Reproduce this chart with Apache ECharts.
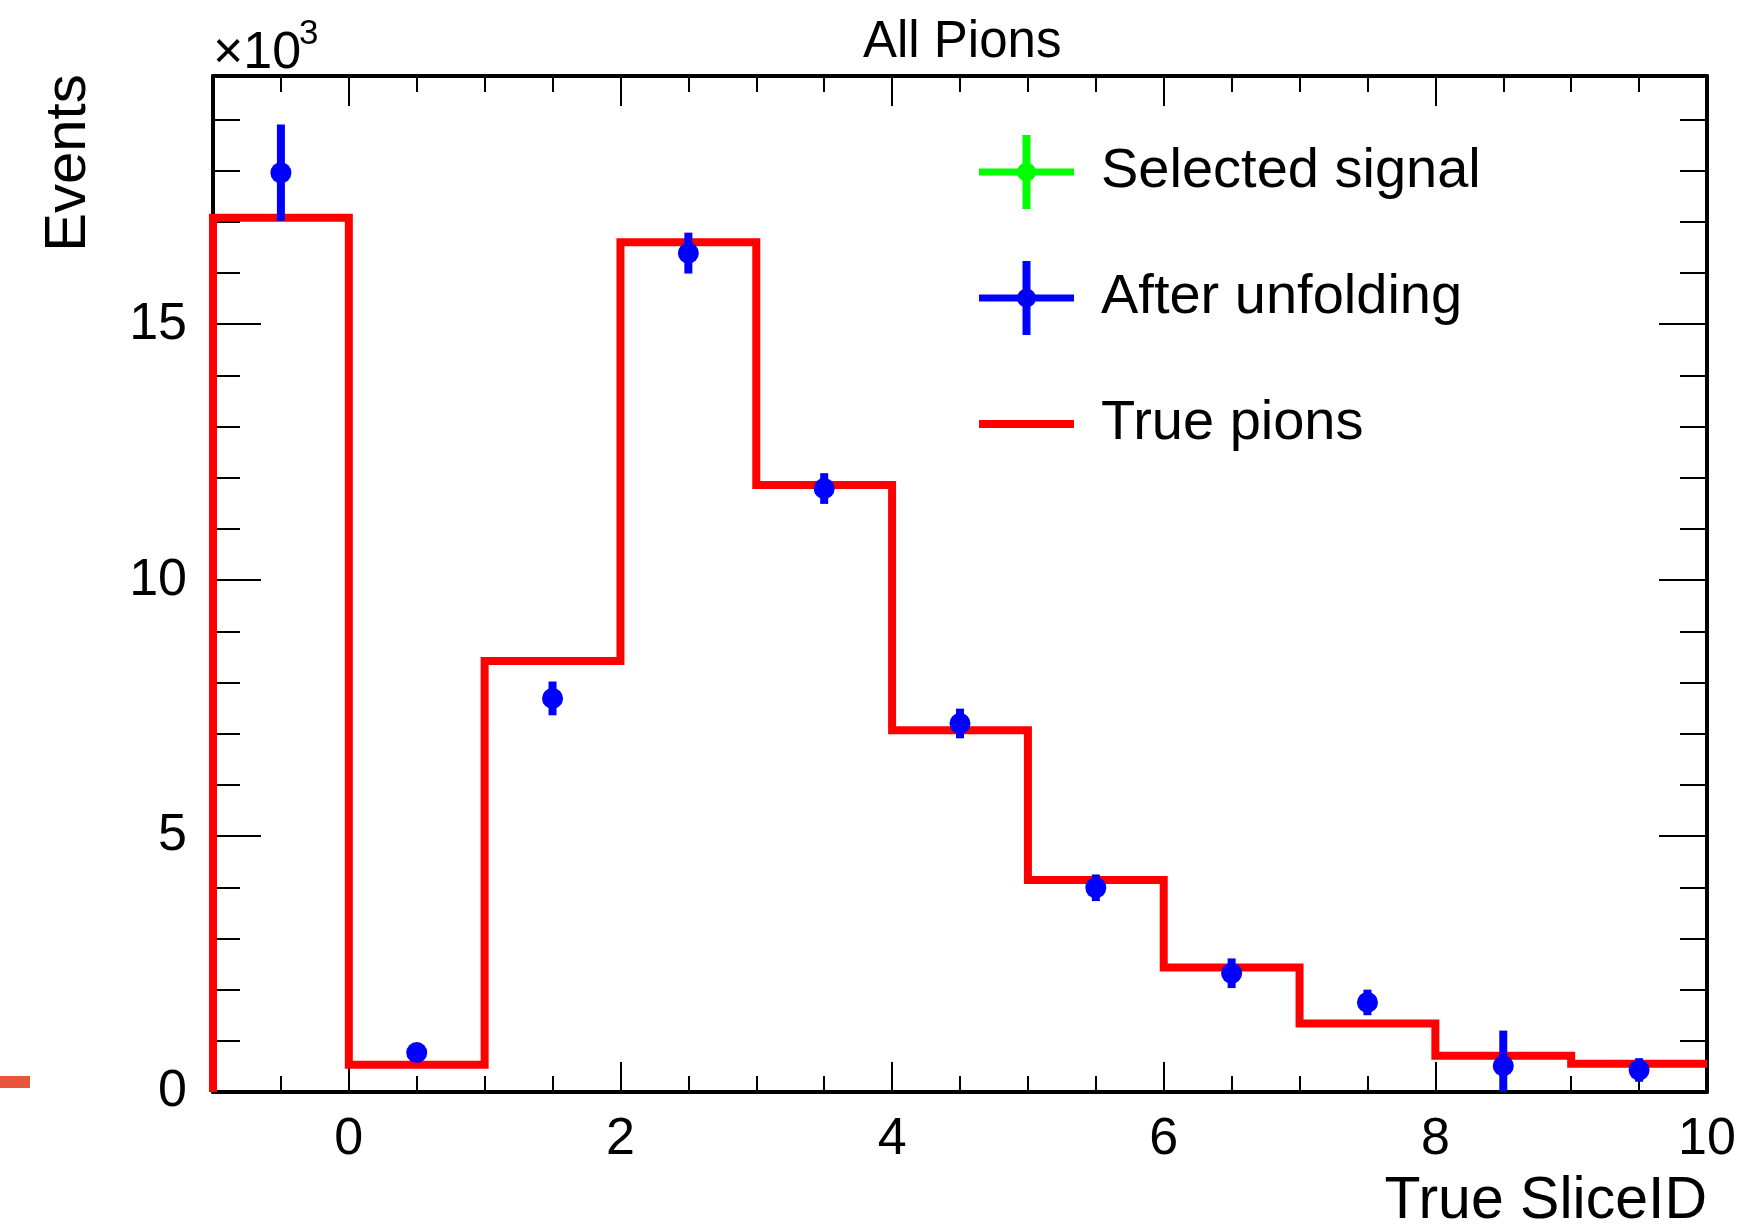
<!DOCTYPE html>
<html><head><meta charset="utf-8"><title>All Pions</title>
<script src="https://cdn.jsdelivr.net/npm/echarts@6/dist/echarts.min.js"></script>
<style>html,body{margin:0;padding:0;background:#fff}#chart{width:1753px;height:1225px}</style>
</head><body><div id="chart"></div>
<script>
// ---- data ----
const binEdges = [-1, 0, 1, 2, 3, 4, 5, 6, 7, 8, 9, 10];
const binCenters = [-0.5, 0.5, 1.5, 2.5, 3.5, 4.5, 5.5, 6.5, 7.5, 8.5, 9.5];
const truePions = [17080, 530, 8420, 16600, 11860, 7070, 4140, 2430, 1340, 710, 550];
const afterUnfolding = [17960, 770, 7690, 16390, 11790, 7200, 3990, 2320, 1750, 510, 430];
const afterUnfoldingErr = [940, 120, 330, 400, 300, 290, 260, 290, 250, 690, 230];
const selectedSignal = [];      // no visible points in the reference
const selectedSignalErr = [];
const xTickLabels = [0, 2, 4, 6, 8, 10];
const yTickLabels = [0, 5000, 10000, 15000];

const FONT = "'Liberation Sans', Arial, Helvetica, sans-serif";
const X_MIN = -1, X_MAX = 10, Y_MIN = 0, Y_MAX = 19850;
const GRID = { left: 213, top: 76, width: 1494, height: 1016 };

const stepData = [[binEdges[0], 0]];
for (let i = 0; i < truePions.length; i++) stepData.push([binEdges[i], truePions[i]]);
stepData.push([binEdges[binEdges.length - 1], truePions[truePions.length - 1]]);

const unfoldData = binCenters.map((x, i) => [x, afterUnfolding[i], afterUnfoldingErr[i]]);
const signalData = selectedSignal.map((v, i) => [binCenters[i], v, selectedSignalErr[i]]);

function errRender(color) {
  return function (params, api) {
    const x = api.value(0), y = api.value(1), e = api.value(2);
    const c = api.coord([x, y]);
    const t = api.coord([x, y + e]);
    const b = api.coord([x, Math.max(y - e, Y_MIN)]);
    return {
      type: 'group',
      children: [
        { type: 'line', shape: { x1: c[0], y1: t[1], x2: c[0], y2: b[1] },
          style: { stroke: color, lineWidth: 8, lineCap: 'butt' } },
        { type: 'circle', shape: { cx: c[0], cy: c[1], r: 10.5 }, style: { fill: color } }
      ]
    };
  };
}

const crossIcon = 'path://M0 33.5L95 33.5L95 40.5L0 40.5Z M43.5 0L51.5 0L51.5 74L43.5 74Z M38 37A9.5 9.5 0 1 1 57 37A9.5 9.5 0 1 1 38 37Z';
const lineIcon = 'path://M0 0L0.01 0L0 0.01Z M0 33L95 33L95 41L0 41Z M95 74L94.99 74L95 73.99Z';

const tickStyle = { color: '#000', width: 2 };
const frameLine = { show: true, onZero: false, lineStyle: { color: '#000', width: 4 } };
const noLine = { show: false, onZero: false };

function xAx(grid, pos, major) {
  return {
    gridIndex: grid, type: 'value', position: pos, min: X_MIN, max: X_MAX, interval: 0.5,
    axisLine: major ? noLine : frameLine,
    axisTick: major ? { show: true, inside: true, length: 30, customValues: xTickLabels, lineStyle: tickStyle }
                    : { show: true, inside: true, length: 16, lineStyle: tickStyle },
    axisLabel: (!major && pos === 'bottom')
      ? { show: true, customValues: xTickLabels, margin: 22, fontSize: 52, color: '#000', fontFamily: FONT }
      : { show: false },
    splitLine: { show: false }
  };
}
function yAx(grid, pos, major) {
  return {
    gridIndex: grid, type: 'value', position: pos, min: Y_MIN, max: Y_MAX, interval: 1000,
    axisLine: major ? noLine : frameLine,
    axisTick: major ? { show: true, inside: true, length: 48, customValues: yTickLabels, lineStyle: tickStyle }
                    : { show: true, inside: true, length: 27, lineStyle: tickStyle },
    axisLabel: (!major && pos === 'left')
      ? { show: true, customValues: yTickLabels, margin: 26, fontSize: 52, color: '#000', fontFamily: FONT,
          padding: [6, 0, 0, 0], formatter: v => String(v / 1000) }
      : { show: false },
    splitLine: { show: false }
  };
}

const chart = echarts.init(document.getElementById('chart'), null, { renderer: 'canvas' });
chart.setOption({
  animation: false,
  backgroundColor: '#fff',
  title: {
    text: 'All Pions', left: 863, top: 17, padding: 0,
    textStyle: { fontSize: 51, fontWeight: 'normal', color: '#000', fontFamily: FONT }
  },
  legend: {
    orient: 'vertical', left: 979, top: 135, padding: 0,
    itemWidth: 95, itemHeight: 74, itemGap: 52, selectedMode: false,
    textStyle: { fontSize: 56, color: '#000', fontFamily: FONT, padding: [0, 0, 0, 22] },
    data: [
      { name: 'Selected signal', icon: crossIcon, itemStyle: { color: '#00ff00', borderWidth: 0 } },
      { name: 'After unfolding', icon: crossIcon, itemStyle: { color: '#0000ff', borderWidth: 0 } },
      { name: 'True pions', icon: lineIcon, itemStyle: { color: '#ff0000', borderWidth: 0 } }
    ]
  },
  grid: [Object.assign({}, GRID), Object.assign({}, GRID)],
  xAxis: [xAx(0, 'bottom', false), xAx(0, 'top', false), xAx(1, 'bottom', true), xAx(1, 'top', true)],
  yAxis: [yAx(0, 'left', false), yAx(0, 'right', false), yAx(1, 'left', true), yAx(1, 'right', true)],
  graphic: [
    { type: 'text', x: 69, y: 163, rotation: Math.PI / 2,
      style: { text: 'Events', fontSize: 58, fontFamily: FONT, fill: '#000', align: 'center', verticalAlign: 'middle' } },
    { type: 'text', x: 1707, y: 1202,
      style: { text: 'True SliceID', fontSize: 59, fontFamily: FONT, fill: '#000', align: 'right', verticalAlign: 'middle' } },
    { type: 'text', x: 213, y: 54,
      style: { text: '\u00d710', fontSize: 52, fontFamily: FONT, fill: '#000', align: 'left', verticalAlign: 'middle' } },
    { type: 'text', x: 299, y: 34,
      style: { text: '3', fontSize: 35, fontFamily: FONT, fill: '#000', align: 'left', verticalAlign: 'middle' } },
    { type: 'rect', shape: { x: 0, y: 1076, width: 30, height: 12 }, style: { fill: '#e8553a' } }
  ],
  series: [
    {
      name: 'True pions', type: 'line', xAxisIndex: 0, yAxisIndex: 0, step: 'end',
      data: stepData, showSymbol: false, symbol: 'none', clip: false, z: 2,
      lineStyle: { color: '#ff0000', width: 8, join: 'miter', cap: 'butt' },
      itemStyle: { color: '#ff0000' }
    },
    {
      name: 'Selected signal', type: 'custom', xAxisIndex: 0, yAxisIndex: 0, z: 3,
      renderItem: errRender('#00ff00'), encode: { x: 0, y: 1 }, data: signalData,
      itemStyle: { color: '#00ff00' }
    },
    {
      name: 'After unfolding', type: 'custom', xAxisIndex: 0, yAxisIndex: 0, z: 4,
      renderItem: errRender('#0000ff'), encode: { x: 0, y: 1 }, data: unfoldData,
      itemStyle: { color: '#0000ff' }
    }
  ]
});
</script></body></html>
